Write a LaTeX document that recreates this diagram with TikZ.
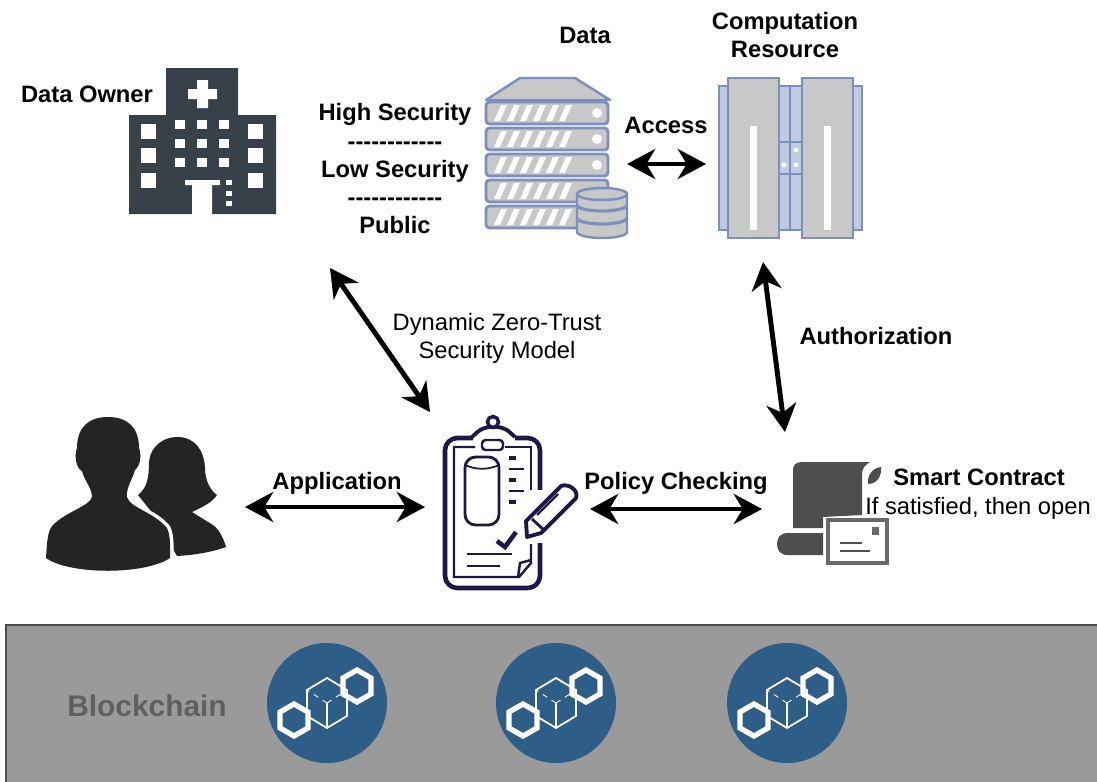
\documentclass[tikz,border=0pt]{standalone}
\usepackage{fontspec}
\setmainfont{Liberation Sans}
\usetikzlibrary{arrows.meta}
\definecolor{hospitaldark}{RGB}{56,64,73}
\definecolor{rackgray}{RGB}{200,200,200}
\definecolor{rackblue}{RGB}{125,143,188}
\definecolor{panelblue}{RGB}{190,203,226}
\definecolor{clipnavy}{RGB}{30,24,70}
\definecolor{scrollgray}{RGB}{78,78,78}
\definecolor{peopledark}{RGB}{36,36,36}
\definecolor{bandgray}{RGB}{154,154,154}
\definecolor{chainblue}{RGB}{46,93,135}
\definecolor{chaintext}{RGB}{96,96,96}
\newcommand{\dashrow}{{-}{-}{-}{-}{-}{-}{-}{-}{-}{-}{-}{-}}
\tikzset{
  boldlabel/.style={font=\fontsize{13.5}{16}\selectfont\bfseries, inner sep=0pt, text height=9.7pt, text depth=0pt},
  plainlabel/.style={font=\fontsize{13.5}{16}\selectfont, inner sep=0pt, text height=9.7pt, text depth=0pt},
  bigarrow/.style={line width=2.8pt, {Stealth[length=16pt,width=17pt,inset=5pt]}-{Stealth[length=16pt,width=17pt,inset=5pt]}}
}

\begin{document}
\begin{tikzpicture}[x=0.02cm,y=-0.02cm]
  \useasboundingbox (0,0) rectangle (1097,781);

  % Blockchain band
  \draw[fill=bandgray, draw=black!70, line width=1pt] (6,625) rectangle (1110,800);
  \node[boldlabel, text=chaintext, font=\fontsize{17}{20}\selectfont\bfseries, text height=12.2pt] (chainlabel) at (147,706) {Blockchain};
  \foreach \x in {327,556,787} {
    \begin{scope}[shift={(\x,703)}]
      \fill[chainblue] (0,0) circle (60);
      \draw[white, line width=1pt] (0,-25) -- (20,-13) -- (20,13) -- (0,25) -- (-20,13) -- (-20,-13) -- cycle;
      \draw[white, line width=0.8pt] (0,0) -- (0,25);
      \draw[white, line width=0.5pt, dashed] (0,0) -- (-20,-13) (0,0) -- (20,-13);
      \draw[white, line width=3pt] (-33,1) -- (-19,9) -- (-19,25) -- (-33,33) -- (-47,25) -- (-47,9) -- cycle;
      \draw[white, line width=3pt] (30,-33) -- (44,-25) -- (44,-9) -- (30,-1) -- (16,-9) -- (16,-25) -- cycle;
    \end{scope}
  }

  % Data owner
  \fill[hospitaldark] (166,68) rectangle (238,115) (129,115) rectangle (276,214);
  \fill[white] (197,80) rectangle (208,108) (188,89) rectangle (217,99);
  \foreach \y in {124,148,173} {
    \fill[white] (141,\y) rectangle ++(15,15);
    \fill[white] (248,\y) rectangle ++(15,15);
  }
  \foreach \x in {175,197,219} {
    \foreach \y in {120,139,158} {
      \fill[white] (\x,\y) rectangle ++(10,9);
    }
  }
  \fill[white] (185,180) rectangle (220,185) (192,185) rectangle (212,216);
  \foreach \y in {180,191,201} {
    \fill[white] (226,\y) rectangle ++(6,5);
  }
  \node[boldlabel] (owner) at (87,94) {Data Owner};

  % Security levels
  \node[boldlabel] (high) at (395,112) {High Security};
  \node[boldlabel] (dashone) at (395,140.5) {\dashrow};
  \node[boldlabel] (low) at (395,169) {Low Security};
  \node[boldlabel] (dashtwo) at (395,196.5) {\dashrow};
  \node[boldlabel] (public) at (395,225) {Public};

  % Data server
  \node[boldlabel] (data) at (585,35) {Data};
  \draw[fill=rackgray, draw=rackblue, line width=1.4pt, line join=round] (486,100) -- (520,78) -- (575,78) -- (610,100) -- cycle;
  \foreach \y in {102,128,154,180,206} {
    \draw[fill=rackgray, draw=rackblue, line width=1.6pt, rounded corners=2pt] (486,\y) rectangle ++(122,22);
    \foreach \x in {494,507,520,533,546,559} {
      \fill[white] (\x,\y+19) -- ++(6,0) -- ++(7,-16) -- ++(-6,0) -- cycle;
    }
  }
  \foreach \y in {113,139,165} {
    \fill[white] (597,\y) circle (5);
  }
  \draw[fill=rackgray, draw=rackblue, line width=1.4pt] (577,194) arc (180:360:25 and 6) -- (627,232) arc (0:180:25 and 6) -- cycle;
  \draw[draw=rackblue, line width=1.4pt] (577,194) arc (180:0:25 and 6);
  \draw[draw=rackblue, line width=1.8pt] (577,205) arc (180:0:25 and 6);
  \draw[draw=rackblue, line width=1.8pt] (577,218) arc (180:0:25 and 6);

  % Computation resource
  \node[boldlabel] (compute) at (785,21) {Computation};
  \node[boldlabel] (resource) at (785,49) {Resource};
  \draw[fill=panelblue, draw=rackblue, line width=1.2pt] (719,86) rectangle (862,230);
  \draw[draw=rackblue, line width=1.2pt] (790,86) -- (790,230);
  \draw[fill=panelblue, draw=rackblue, line width=1.2pt] (778,142) rectangle (802,174);
  \draw[draw=rackblue, line width=1.2pt] (790,142) -- (790,174);
  \foreach \x in {728,802} {
    \draw[fill=rackgray, draw=rackblue, line width=1.4pt] (\x,78) rectangle ++(51,160);
    \fill[white] (\x+22,126) rectangle ++(7,104);
  }
  \fill[white] (796,150) circle (2.5) (796,165) circle (2.5) (784,165) circle (2.5);

  % Connector ends
  \coordinate (accessL) at (627,164);
  \coordinate (accessR) at (706,164);
  \coordinate (trustA) at (330,268);
  \coordinate (trustB) at (430,412);
  \coordinate (authA) at (763,262);
  \coordinate (authB) at (785,432);
  \coordinate (appL) at (245,507);
  \coordinate (appR) at (425,507);
  \coordinate (policyL) at (590,509);
  \coordinate (policyR) at (762,509);

  % Arrows and their labels
  \draw[bigarrow] (accessL) -- (accessR);
  \draw[bigarrow] (trustA) -- (trustB);
  \draw[bigarrow] (authA) -- (authB);
  \draw[bigarrow] (appL) -- (appR);
  \draw[bigarrow] (policyL) -- (policyR);
  \node[boldlabel] (access) at (666,125) {Access};
  \node[plainlabel] (trustone) at (497,322) {Dynamic Zero-Trust};
  \node[plainlabel] (trusttwo) at (497,350) {Security Model};
  \node[boldlabel] (authorization) at (876,336) {Authorization};
  \node[boldlabel] (application) at (337,481) {Application};
  \node[boldlabel] (policy) at (676,481) {Policy Checking};

  % Users
  \fill[peopledark] (177,437) .. controls (195,437) and (204,450) .. (205,468) .. controls (205,480) and (210,490) .. (217,495) .. controls (212,503) and (202,507) .. (192,512) -- (213,525) .. controls (220,530) and (224,540) .. (226,547) .. controls (212,552) and (195,555) .. (177,556) -- (150,510) -- (138,495) .. controls (147,488) and (149,478) .. (149,462) .. controls (150,447) and (163,437) .. (177,437) -- cycle;
  \fill[peopledark, preaction={draw=white, line width=4pt}] (108,417) .. controls (128,417) and (139,428) .. (139,448) .. controls (142,456) and (140,466) .. (135,470) .. controls (132,480) and (126,488) .. (127,497) .. controls (129,507) and (155,513) .. (167,528) .. controls (171,537) and (170,548) .. (170,558) .. controls (145,575) and (70,575) .. (46,558) .. controls (47,545) and (47,533) .. (52,526) .. controls (65,512) and (90,506) .. (92,497) .. controls (92,488) and (84,480) .. (82,471) .. controls (76,468) and (74,456) .. (77,448) .. controls (77,428) and (88,417) .. (108,417) -- cycle;

  % Policy clipboard
  \draw[clipnavy, line width=2.6pt, rounded corners=7pt] (445,438) rectangle (540,588);
  \fill[white] (534,490) rectangle (546,543);
  \draw[clipnavy, line width=1.4pt] (475,447) -- (454,447) -- (454,577) -- (519,577) -- (531,563) -- (531,544);
  \draw[clipnavy, line width=1.4pt] (505,447) -- (531,447) -- (531,490);
  \draw[clipnavy, line width=1.4pt] (518,577) -- (520,563) -- (531,560);
  \fill[white] (473,432) rectangle (515,441);
  \draw[clipnavy, line width=2.2pt, rounded corners=4pt] (472,437) -- (483,427) -- (504,427) -- (515,437);
  \draw[clipnavy, line width=2pt, fill=white] (493,422) circle (5.5);
  \draw[clipnavy, line width=1.4pt, fill=white, rounded corners=2pt] (482,440) rectangle (503,450);
  \draw[clipnavy, line width=1.6pt, rounded corners=6pt] (465,457) rectangle (499,525);
  \draw[clipnavy, line width=1pt] (465,465) .. controls (476,470) and (488,470) .. (499,465);
  \foreach \y in {458,480,502} {
    \draw[clipnavy, line width=1.8pt] (509,\y) -- (516,\y);
  }
  \draw[clipnavy, line width=1.2pt] (509,469) -- (524,469) (509,491) -- (524,491);
  \draw[clipnavy, line width=2.6pt] (497,541) -- (505,547) -- (516,532);
  \draw[clipnavy, line width=1.4pt] (467,554) -- (512,554) (467,566) -- (500,566);
  \draw[clipnavy, line width=2.2pt, line join=round, fill=white] (526,521) -- (561,486) .. controls (568,483) and (579,490) .. (576,498) -- (541,533) -- (527,537) -- cycle;
  \draw[clipnavy, line width=1.2pt] (537,515) -- (558,494);
  \draw[clipnavy, line width=1.6pt] (532,519) -- (545,531);

  % Smart contract
  \fill[scrollgray] (793,528) -- (793,470) .. controls (793,465) and (796,462) .. (802,462) -- (870,462) .. controls (865,465) and (862,468) .. (862,475) -- (862,515) -- (823,517) -- (823,528) -- cycle;
  \fill[scrollgray] (823,533) -- (788,533) .. controls (780,533) and (777,538) .. (777,544) .. controls (777,550) and (780,555) .. (788,555) -- (823,555) -- cycle;
  \fill[scrollgray] (868,484) .. controls (867,476) and (872,468) .. (881,467) .. controls (882,476) and (877,484) .. (868,484) -- cycle;
  \draw[fill=white, draw=scrollgray!85, line width=1.8pt] (828,520) rectangle (887,563);
  \fill[scrollgray!85] (872,527) rectangle (879,535);
  \draw[scrollgray, line width=1pt] (840,543) -- (862,543) (840,551) -- (870,551);
  \node[boldlabel] (contract) at (979,477) {Smart Contract};
  \node[plainlabel] (satisfied) at (978,506) {If satisfied, then open};
\end{tikzpicture}
\end{document}
